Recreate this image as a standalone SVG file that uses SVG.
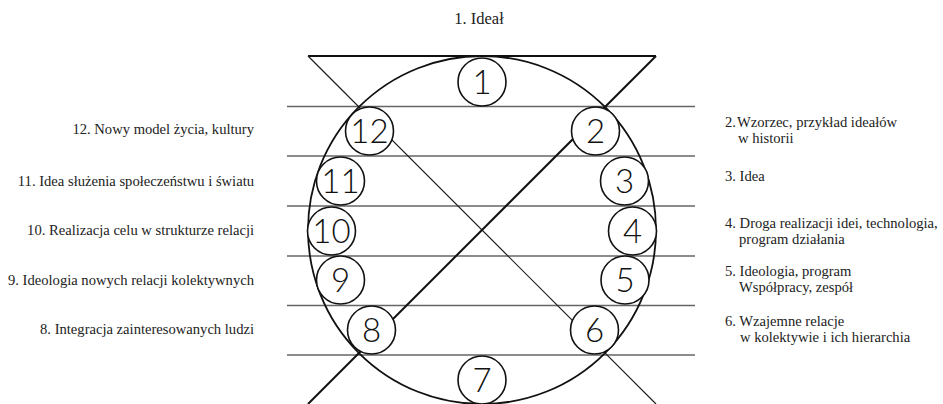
<svg xmlns="http://www.w3.org/2000/svg" width="943" height="404" viewBox="0 0 943 404">
<style>
.bg{fill:#fff}
.hl{stroke:#666;stroke-width:1.3;fill:none}
.frame{stroke:#111;stroke-width:2;fill:none}
.d1{stroke:#222;stroke-width:1.2;fill:none}
.d2{stroke:#111;stroke-width:2;fill:none}
.big{stroke:#111;stroke-width:1.8;fill:none}
.node circle{fill:#fff;stroke:#111;stroke-width:1.6}
.node text{font-family:Lato,"Liberation Sans",sans-serif;font-weight:300;font-size:33px;fill:#111;text-anchor:middle}
.lbl{font-size:14.6px;fill:#222}
.l{text-anchor:end}
</style>
<rect class="bg" x="0" y="0" width="943" height="404"/>
<g id="connectors">
<line class="hl" x1="287" y1="106.5" x2="695" y2="106.5"/>
<line class="hl" x1="287" y1="156" x2="695" y2="156"/>
<line class="hl" x1="287" y1="206" x2="695" y2="206"/>
<line class="hl" x1="287" y1="256" x2="695" y2="256"/>
<line class="hl" x1="287" y1="305.5" x2="695" y2="305.5"/>
<line class="hl" x1="287" y1="355" x2="695" y2="355"/>
<line class="frame" x1="308" y1="56" x2="656" y2="56"/>
<line class="d1" x1="308" y1="56" x2="656" y2="404"/>
<line class="d2" x1="656" y1="56" x2="308" y2="404"/>
<circle class="big" cx="482" cy="230" r="174"/>
</g>
<g id="node1" class="node"><circle cx="482" cy="82" r="24"/><text x="482" y="94">1</text></g>
<g id="node2" class="node"><circle cx="595.5" cy="131" r="24"/><text x="595.5" y="143">2</text></g>
<g id="node3" class="node"><circle cx="624.5" cy="181" r="24"/><text x="624.5" y="193">3</text></g>
<g id="node4" class="node"><circle cx="632.5" cy="231" r="24"/><text x="632.5" y="243">4</text></g>
<g id="node5" class="node"><circle cx="625" cy="280" r="24"/><text x="625" y="292">5</text></g>
<g id="node6" class="node"><circle cx="594.5" cy="330" r="24"/><text x="594.5" y="342">6</text></g>
<g id="node7" class="node"><circle cx="482" cy="380" r="24"/><text x="482" y="392">7</text></g>
<g id="node8" class="node"><circle cx="371.5" cy="330" r="24"/><text x="371.5" y="342">8</text></g>
<g id="node9" class="node"><circle cx="340.5" cy="280" r="24"/><text x="340.5" y="292">9</text></g>
<g id="node10" class="node"><circle cx="331.5" cy="231" r="24"/><text x="331.5" y="243">10</text></g>
<g id="node11" class="node"><circle cx="340.5" cy="181" r="24"/><text x="340.5" y="193">11</text></g>
<g id="node12" class="node"><circle cx="369.5" cy="131" r="24"/><text x="369.5" y="143">12</text></g>
<g id="labels" font-family="'Liberation Serif', 'DejaVu Serif', serif">
<text class="lbl" x="479" y="24" text-anchor="middle" style="font-size:16.5px">1. Ideał</text>
<text class="lbl l" x="254" y="134">12. Nowy model życia, kultury</text>
<text class="lbl l" x="254" y="186">11. Idea służenia społeczeństwu i światu</text>
<text class="lbl l" x="254" y="235">10. Realizacja celu w strukturze relacji</text>
<text class="lbl l" x="254" y="285">9. Ideologia nowych relacji kolektywnych</text>
<text class="lbl l" x="254" y="334">8. Integracja zainteresowanych ludzi</text>
<text class="lbl" x="725" y="127">2.<tspan x="737">Wzorzec, przykład ideałów</tspan><tspan x="738" y="143">w historii</tspan></text>
<text class="lbl" x="725" y="181">3. Idea</text>
<text class="lbl" x="725" y="228">4. Droga realizacji idei, technologia,<tspan x="739" y="244">program działania</tspan></text>
<text class="lbl" x="725" y="276">5. Ideologia, program<tspan x="739" y="292">Współpracy, zespół</tspan></text>
<text class="lbl" x="725" y="326">6. Wzajemne relacje<tspan x="740" y="342">w kolektywie i ich hierarchia</tspan></text>
</g>
</svg>
